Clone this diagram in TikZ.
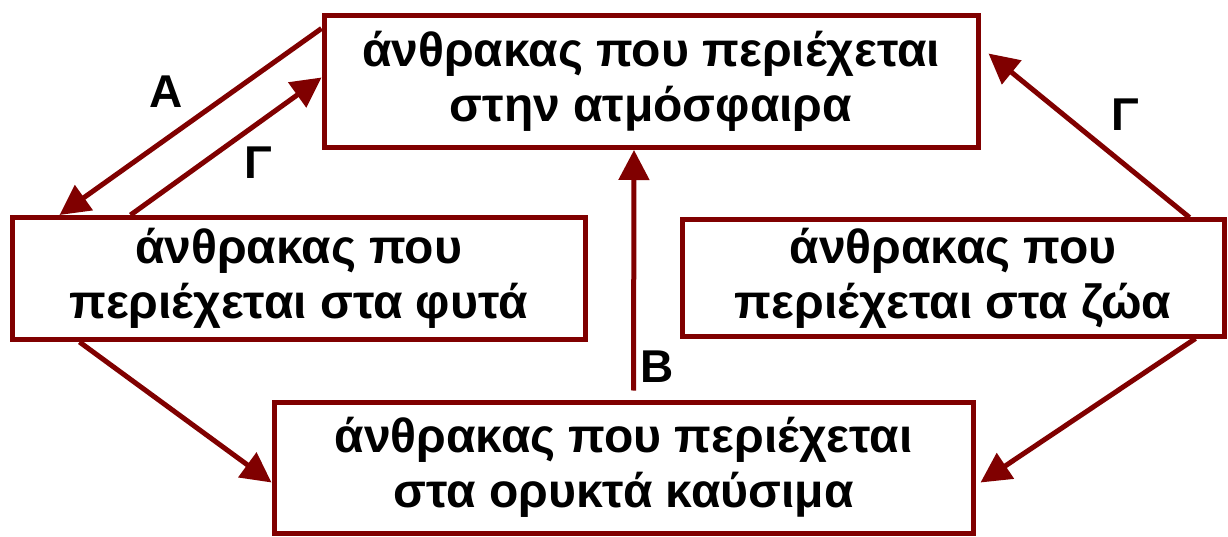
\documentclass[tikz,border=0pt]{standalone}
\usepackage{fontspec}
\setmainfont{Liberation Sans}
\usetikzlibrary{arrows.meta,calc}
\definecolor{carbonred}{HTML}{800000}

\begin{document}
\begin{tikzpicture}[x=1pt,y=-1pt,
  box/.style={draw=carbonred,line width=5pt,align=center,inner sep=0pt,font=\fontsize{48}{55}\selectfont\bfseries},
  flow/.style={draw=carbonred,line width=5pt,-{Triangle[length=30pt,width=30pt]}},
  lbl/.style={font=\fontsize{46}{55}\selectfont\bfseries}]
\useasboundingbox (0,0) rectangle (1228,537);
\node[box,minimum width=654pt,minimum height=132pt] (atm) at (651,81.5){άνθρακας που περιέχεται\\στην ατμόσφαιρα};
\node[box,minimum width=573pt,minimum height=122pt] (plants) at (298.5,278.5){άνθρακας που\\περιέχεται στα φυτά};
\node[box,minimum width=542pt,minimum height=116pt] (animals) at (953,278){άνθρακας που\\περιέχεται στα ζώα};
\node[box,minimum width=699pt,minimum height=131pt] (fuels) at (623.5,467.5){άνθρακας που περιέχεται\\στα ορυκτά καύσιμα};
\draw[flow] ([yshift=53pt]atm.west)--([xshift=50pt]plants.north west);
\draw[flow] ([xshift=121pt]plants.north west)--([yshift=4pt]atm.west);
\draw[flow,shorten <=9pt] ([xshift=10pt]fuels.north)--([xshift=-17pt]atm.south);
\draw[flow] ([xshift=-37pt]animals.north east)--([xshift=8pt,yshift=28pt]atm.east);
\draw[flow] ([xshift=70pt]plants.south west)--([yshift=-15pt]fuels.west);
\draw[flow] ([xshift=-31pt]animals.south east)--([xshift=5pt,yshift=-15pt]fuels.east);
\node[lbl] (a) at (166,92){Α};
\node[lbl] (g1) at (258,163){Γ};
\node[lbl] (g2) at (1125,115){Γ};
\node[lbl] (b) at (657,367){Β};
\end{tikzpicture}
\end{document}
